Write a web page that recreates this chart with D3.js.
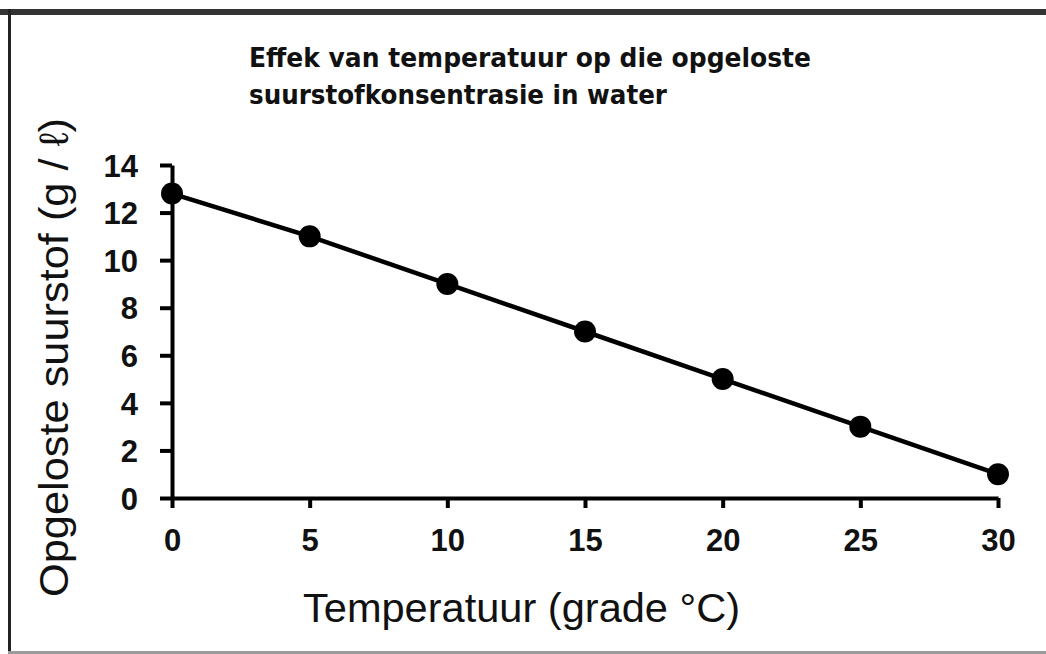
<!DOCTYPE html>
<html>
<head>
<meta charset="utf-8">
<script src="https://cdn.jsdelivr.net/npm/d3@7"></script>
<style>
  html, body { margin: 0; padding: 0; background: #fff; }
  svg { display: block; }
</style>
</head>
<body>
<script>
// ---- data ----
const temperature = [0, 5, 10, 15, 20, 25, 30];
const oxygen = [12.8, 11, 9, 7, 5, 3, 1];
const xTicks = [0, 5, 10, 15, 20, 25, 30];
const yTicks = [0, 2, 4, 6, 8, 10, 12, 14];
const titleLines = ["Effek van temperatuur op die opgeloste", "suurstofkonsentrasie in water"];
const xTitle = "Temperatuur (grade °C)";
const yTitle = "Opgeloste suurstof (g / ℓ)";

const W = 1046, H = 654;
const svg = d3.select("body").append("svg").attr("width", W).attr("height", H);

svg.append("rect").attr("width", W).attr("height", H).attr("fill", "#fff");

// frame
svg.append("rect").attr("x", 0).attr("y", 9).attr("width", W).attr("height", 6).attr("fill", "#333");
svg.append("rect").attr("x", 8).attr("y", 9).attr("width", 3).attr("height", H - 9).attr("fill", "#222");
svg.append("rect").attr("x", 8).attr("y", 651).attr("width", W - 8).attr("height", 3).attr("fill", "#9a9a9a");

const x = d3.scaleLinear().domain([0, 30]).range([172, 998]);
const y = d3.scaleLinear().domain([0, 14]).range([498, 165]);

// title
const tl = [ {t: titleLines[0], y: 67, len: 562}, {t: titleLines[1], y: 104, len: 418} ];
svg.selectAll("text.title").data(tl).enter().append("text")
  .attr("class", "title")
  .attr("x", 249).attr("y", d => d.y)
  .attr("textLength", d => d.len).attr("lengthAdjust", "spacingAndGlyphs")
  .attr("font-family", "DejaVu Sans").attr("font-weight", "bold").attr("font-size", 26)
  .attr("fill", "#111")
  .text(d => d.t);

// axes
const yAxis = d3.axisLeft(y).tickValues(yTicks).tickSize(12).tickSizeOuter(0).tickPadding(22);
const xAxis = d3.axisBottom(x).tickValues(xTicks).tickSize(10).tickSizeOuter(0).tickPadding(21);

const gy = svg.append("g").attr("transform", `translate(${x(0)},0)`).call(yAxis);
const gx = svg.append("g").attr("transform", `translate(0,${y(0)})`).call(xAxis);

[gx, gy].forEach(g => {
  g.select(".domain").attr("stroke", "#000").attr("stroke-width", 4);
  g.selectAll(".tick line").attr("stroke", "#000").attr("stroke-width", 4);
  g.selectAll(".tick text")
    .attr("font-family", "Liberation Sans, Arial, sans-serif")
    .attr("font-weight", "bold").attr("font-size", 31).attr("fill", "#111");
});
gy.selectAll(".tick text").attr("dy", "0.36em");

// line
const line = d3.line().x((d, i) => x(temperature[i])).y(d => y(d));
svg.append("path").datum(oxygen).attr("d", line)
  .attr("fill", "none").attr("stroke", "#000").attr("stroke-width", 4.5);

svg.selectAll("circle.pt").data(oxygen).enter().append("circle")
  .attr("class", "pt")
  .attr("cx", (d, i) => x(temperature[i])).attr("cy", d => y(d))
  .attr("r", 11).attr("fill", "#000");

// axis titles
svg.append("text").attr("x", 303).attr("y", 622)
  .attr("font-family", "Liberation Sans, Arial, sans-serif").attr("font-size", 41)
  .attr("fill", "#111").attr("textLength", 437).attr("lengthAdjust", "spacingAndGlyphs")
  .text(xTitle);

svg.append("text")
  .attr("transform", "translate(68,597) rotate(-90)")
  .attr("font-family", "Liberation Sans, Arial, sans-serif").attr("font-size", 41)
  .attr("fill", "#111").attr("textLength", 479).attr("lengthAdjust", "spacingAndGlyphs")
  .text(yTitle);
</script>
</body>
</html>
